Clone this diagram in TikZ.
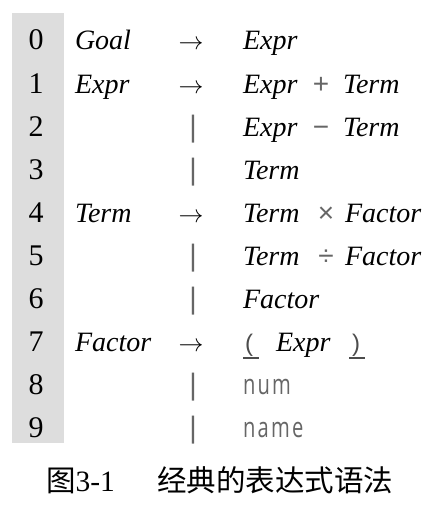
\documentclass[tikz,border=0pt]{standalone}
\usepackage{fontspec}
\setmainfont{Liberation Serif}
\newfontfamily\cjk{Noto Sans CJK SC}
\newfontfamily\tsf[LetterSpace=8,FakeStretch=0.72]{Open Sans}
\newfontfamily\barf{Liberation Sans}
\newfontfamily\dvs{DejaVu Sans}
\begin{document}
\begin{tikzpicture}[x=1pt,y=-1pt,
  every node/.style={inner sep=0pt,outer sep=0pt},
  numtxt/.style={anchor=base,font=\fontsize{30}{30}\selectfont},
  nt/.style={anchor=base west,font=\fontsize{28}{28}\selectfont\itshape},
  arr/.style={anchor=base,font=\fontsize{29}{29}\selectfont},
  bartxt/.style={anchor=base,font=\fontsize{28}{28}\selectfont\dvs,text=black!60},
  optxt/.style={anchor=base,font=\fontsize{28}{28}\selectfont\barf,text=black!60},
  paren/.style={anchor=base west,font=\fontsize{24}{24}\selectfont\barf,text=black!70},
  term/.style={anchor=base west,font=\fontsize{28}{28}\selectfont\tsf,text=black!60},
  ul/.style={line width=1.2pt,black!70},
  captxt/.style={anchor=base west,font=\fontsize{29.5}{29.5}\selectfont}
]
\useasboundingbox (0,0) rectangle (435,511);
\fill[gray!27] (12,13) rectangle (64,443);
% digits
\foreach \i in {0,...,9}{
  \node[numtxt] (d\i) at (36,{50+43*\i}) {\i};
}
% left-hand sides
\node[nt] (l0) at (75,50) {Goal};
\node[nt] (l1) at (75,93) {Expr};
\node[nt] (l4) at (75,222) {Term};
\node[nt] (l7) at (75,351) {Factor};
% arrows
\node[arr] (a0) at (191,50) {$\rightarrow$};
\node[arr] (a1) at (191,93) {$\rightarrow$};
\node[arr] (a4) at (191,222) {$\rightarrow$};
\node[arr] (a7) at (191,351) {$\rightarrow$};
% bars
\node[bartxt] (b2) at (193,136) {|};
\node[bartxt] (b3) at (193,179) {|};
\node[bartxt] (b5) at (193,265) {|};
\node[bartxt] (b6) at (193,308) {|};
\node[bartxt] (b8) at (193,394) {|};
\node[bartxt] (b9) at (193,437) {|};
% right-hand sides
\node[nt] (r0) at (243,50) {Expr};
\node[nt] (r1a) at (243,93) {Expr};
\node[optxt] (o1) at (321,93) {+};
\node[nt] (r1b) at (343,93) {Term};
\node[nt] (r2a) at (243,136) {Expr};
\node[optxt] (o2) at (321,136) {−};
\node[nt] (r2b) at (343,136) {Term};
\node[nt] (r3) at (243,179) {Term};
\node[nt] (r4a) at (243,222) {Term};
\node[optxt] (o4) at (326,222) {×};
\node[nt] (r4b) at (345,222) {Factor};
\node[nt] (r5a) at (243,265) {Term};
\node[optxt] (o5) at (326,265) {÷};
\node[nt] (r5b) at (345,265) {Factor};
\node[nt] (r6) at (243,308) {Factor};
\node[paren] (p1) at (245,351) {(};
\node[nt] (r7) at (276,351) {Expr};
\node[paren] (p2) at (352,351) {)};
\draw[ul] (p1.base west) ++(-2,7) -- ++(16,0);
\draw[ul] (p2.base west) ++(-3,7) -- ++(16,0);
\node[term] (r8) at (243,394) {num};
\node[term] (r9) at (243,437) {name};
% caption
\node[captxt] (c1) at (46,491) {{\cjk 图}3-1};
\node[captxt] (c2) at (157,491) {\cjk 经典的表达式语法};
\end{tikzpicture}
\end{document}
